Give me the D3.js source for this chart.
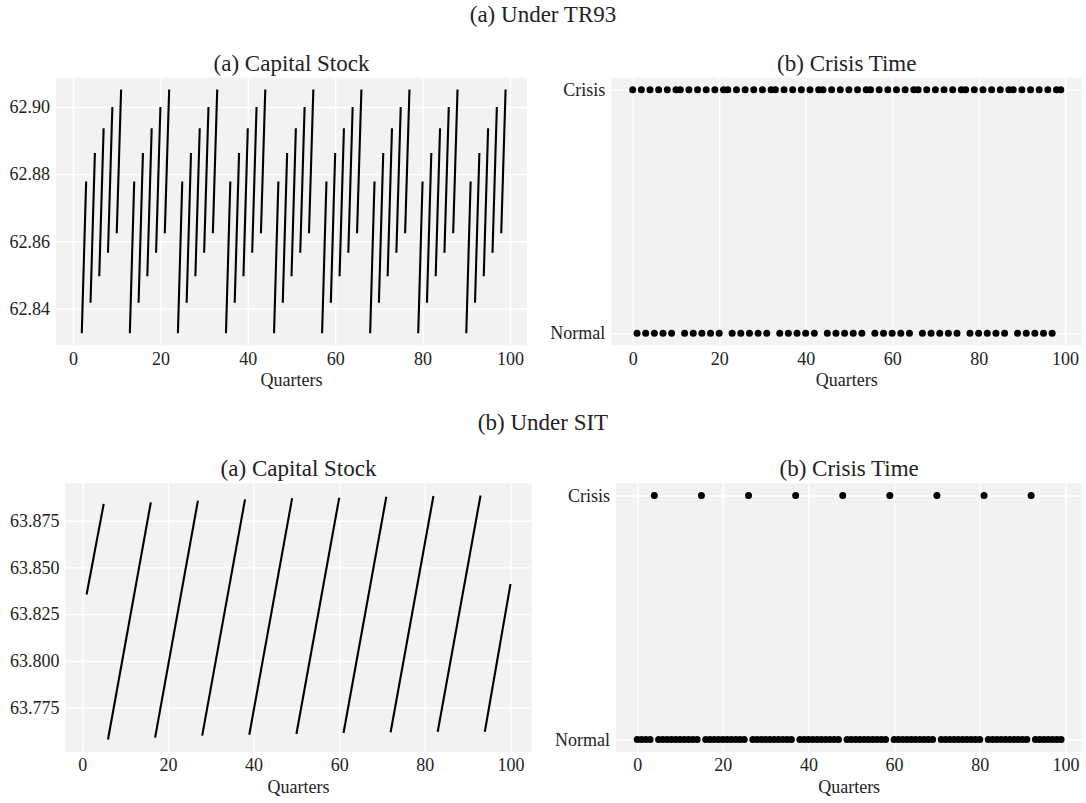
<!DOCTYPE html>
<html>
<head>
<meta charset="utf-8">
<script src="https://cdn.jsdelivr.net/npm/d3@7"></script>
<style>
  html, body { margin: 0; padding: 0; background: #ffffff; }
  svg { display: block; }
  text { font-family: "Liberation Serif", "DejaVu Serif", serif; fill: #222; }
</style>
</head>
<body>
<svg id="chart" width="1086" height="803"></svg>
<script>
// ---------------- DATA ----------------
const quarterTicks = [0, 20, 40, 60, 80, 100];
const regimeLabels = ["Normal", "Crisis"];

// (a) Under TR93 — capital stock segments (start quarter, end quarter, value at start, value at end)
const tr93SegStart = [2,4,6,8,10, 13,15,17,19,21, 24,26,28,30,32, 35,37,39,41,43, 46,48,50,52,54,
                      57,59,61,63,65, 68,70,72,74,76, 79,81,83,85,87, 90,92,94,96,98];
const tr93SegEnd   = [3,5,7,9,11, 14,16,18,20,22, 25,27,29,31,33, 36,38,40,42,44, 47,49,51,53,55,
                      58,60,62,64,66, 69,71,73,75,77, 80,82,84,86,88, 91,93,95,97,99];
const tr93SegLow   = [62.8326,62.8417,62.8496,62.8566,62.8624, 62.8326,62.8417,62.8496,62.8566,62.8624,
                      62.8326,62.8417,62.8496,62.8566,62.8624, 62.8326,62.8417,62.8496,62.8566,62.8624,
                      62.8326,62.8417,62.8496,62.8566,62.8624, 62.8326,62.8417,62.8496,62.8566,62.8624,
                      62.8326,62.8417,62.8496,62.8566,62.8624, 62.8326,62.8417,62.8496,62.8566,62.8624,
                      62.8326,62.8417,62.8496,62.8566,62.8624];
const tr93SegHigh  = [62.8778,62.8863,62.8937,62.9000,62.9052, 62.8778,62.8863,62.8937,62.9000,62.9052,
                      62.8778,62.8863,62.8937,62.9000,62.9052, 62.8778,62.8863,62.8937,62.9000,62.9052,
                      62.8778,62.8863,62.8937,62.9000,62.9052, 62.8778,62.8863,62.8937,62.9000,62.9052,
                      62.8778,62.8863,62.8937,62.9000,62.9052, 62.8778,62.8863,62.8937,62.9000,62.9052,
                      62.8778,62.8863,62.8937,62.9000,62.9052];
const tr93CapTicks = [62.84, 62.86, 62.88, 62.90];
const tr93CapXLim = [-3.9, 103.9];
const tr93CapYLim = [62.8290, 62.9088];

// (a) Under TR93 — regime by quarter 0..99 (1 = Crisis, 0 = Normal)
const tr93Regime = [1,0,1,0,1,0,1,0,1,0,1, 1,0,1,0,1,0,1,0,1,0,1, 1,0,1,0,1,0,1,0,1,0,1,
                    1,0,1,0,1,0,1,0,1,0,1, 1,0,1,0,1,0,1,0,1,0,1, 1,0,1,0,1,0,1,0,1,0,1,
                    1,0,1,0,1,0,1,0,1,0,1, 1,0,1,0,1,0,1,0,1,0,1, 1,0,1,0,1,0,1,0,1,0,1, 1];

// (b) Under SIT — capital stock segments
const sitSegStart = [1, 6, 17, 28, 39, 50, 61, 72, 83, 94];
const sitSegEnd   = [5, 16, 27, 38, 49, 60, 71, 82, 93, 100];
const sitSegLow   = [63.8355, 63.7579, 63.7589, 63.7600, 63.7605, 63.7609, 63.7614, 63.7618, 63.7621, 63.7621];
const sitSegHigh  = [63.8840, 63.8848, 63.8857, 63.8864, 63.8870, 63.8873, 63.8878, 63.8882, 63.8885, 63.8411];
const sitCapTicks = [63.775, 63.800, 63.825, 63.850, 63.875];
const sitCapXLim = [-3.95, 104.95];
const sitCapYLim = [63.7514, 63.8950];

// (b) Under SIT — regime by quarter 0..99
const sitRegime = [0,0,0,0,1,0,0,0,0,0, 0,0,0,0,0,1,0,0,0,0, 0,0,0,0,0,0,1,0,0,0, 0,0,0,0,0,0,0,1,0,0,
                   0,0,0,0,0,0,0,0,1,0, 0,0,0,0,0,0,0,0,0,1, 0,0,0,0,0,0,0,0,0,0, 1,0,0,0,0,0,0,0,0,0,
                   0,1,0,0,0,0,0,0,0,0, 0,0,1,0,0,0,0,0,0,0];
const regimeXLim = [-4.95, 103.95];
const regimeYLim = [-0.05, 1.05];

// ---------------- DRAWING ----------------
const svg = d3.select("#chart");
const BG = "#f2f2f2";
const TICK_FS = 18, TITLE_FS = 23;

function panel(box, xLim, yLim, yTicks, yFmt, title, titleBase) {
  const x = d3.scaleLinear().domain(xLim).range([box.l, box.r]);
  const y = d3.scaleLinear().domain(yLim).range([box.b, box.t]);
  const g = svg.append("g");
  g.append("rect").attr("x", box.l).attr("y", box.t)
    .attr("width", box.r - box.l).attr("height", box.b - box.t).attr("fill", BG);

  const xa = g.append("g").attr("transform", `translate(0,${box.b})`)
    .call(d3.axisBottom(x).tickValues(quarterTicks).tickSize(-(box.b - box.t)).tickPadding(7).tickFormat(d3.format("d")));
  xa.select(".domain").remove();
  xa.selectAll(".tick line").attr("stroke", "#ffffff").attr("stroke-width", 1.4);
  xa.selectAll(".tick text").attr("font-size", TICK_FS).attr("fill", "#222")
    .attr("font-family", '"Liberation Serif", serif');

  const ya = g.append("g").attr("transform", `translate(${box.l},0)`)
    .call(d3.axisLeft(y).tickValues(yTicks).tickSize(-(box.r - box.l)).tickPadding(6).tickFormat(yFmt));
  ya.select(".domain").remove();
  ya.selectAll(".tick line").attr("stroke", "#ffffff").attr("stroke-width", 1.4);
  ya.selectAll(".tick text").attr("font-size", TICK_FS).attr("fill", "#222")
    .attr("font-family", '"Liberation Serif", serif');

  g.append("text").attr("x", (box.l + box.r) / 2).attr("y", titleBase)
    .attr("text-anchor", "middle").attr("font-size", TITLE_FS).text(title);
  g.append("text").attr("x", (box.l + box.r) / 2).attr("y", box.b + 41)
    .attr("text-anchor", "middle").attr("font-size", TICK_FS).text("Quarters");
  return { x, y, g };
}

function drawSegments(p, s0, s1, v0, v1) {
  const segs = s0.map((d, i) => [[d, v0[i]], [s1[i], v1[i]]]);
  const line = d3.line().x(d => p.x(d[0])).y(d => p.y(d[1]));
  p.g.append("g").selectAll("path").data(segs).join("path")
    .attr("d", line).attr("fill", "none").attr("stroke", "#000").attr("stroke-width", 2.1)
    .attr("stroke-linecap", "butt");
}

function drawRegime(p, regime) {
  p.g.append("g").selectAll("circle").data(regime).join("circle")
    .attr("cx", (d, i) => p.x(i)).attr("cy", d => p.y(d)).attr("r", 3.5).attr("fill", "#000");
}

const regimeFmt = d => regimeLabels[d];

// Row (a)
svg.append("text").attr("x", 543).attr("y", 22).attr("text-anchor", "middle")
  .attr("font-size", TITLE_FS).text("(a) Under TR93");
const pA1 = panel({ l: 56, r: 527, t: 77.5, b: 345.3 }, tr93CapXLim, tr93CapYLim, tr93CapTicks,
  d3.format(".2f"), "(a) Capital Stock", 71);
drawSegments(pA1, tr93SegStart, tr93SegEnd, tr93SegLow, tr93SegHigh);
const pA2 = panel({ l: 611.3, r: 1082.2, t: 77.5, b: 345.3 }, regimeXLim, regimeYLim, [0, 1],
  regimeFmt, "(b) Crisis Time", 71);
drawRegime(pA2, tr93Regime);

// Row (b)
svg.append("text").attr("x", 543).attr("y", 430).attr("text-anchor", "middle")
  .attr("font-size", TITLE_FS).text("(b) Under SIT");
const pB1 = panel({ l: 65.4, r: 531.7, t: 483.3, b: 751.7 }, sitCapXLim, sitCapYLim, sitCapTicks,
  d3.format(".3f"), "(a) Capital Stock", 476);
drawSegments(pB1, sitSegStart, sitSegEnd, sitSegLow, sitSegHigh);
const pB2 = panel({ l: 616, r: 1082.3, t: 483.3, b: 751.7 }, regimeXLim, regimeYLim, [0, 1],
  regimeFmt, "(b) Crisis Time", 476);
drawRegime(pB2, sitRegime);
</script>
</body>
</html>
